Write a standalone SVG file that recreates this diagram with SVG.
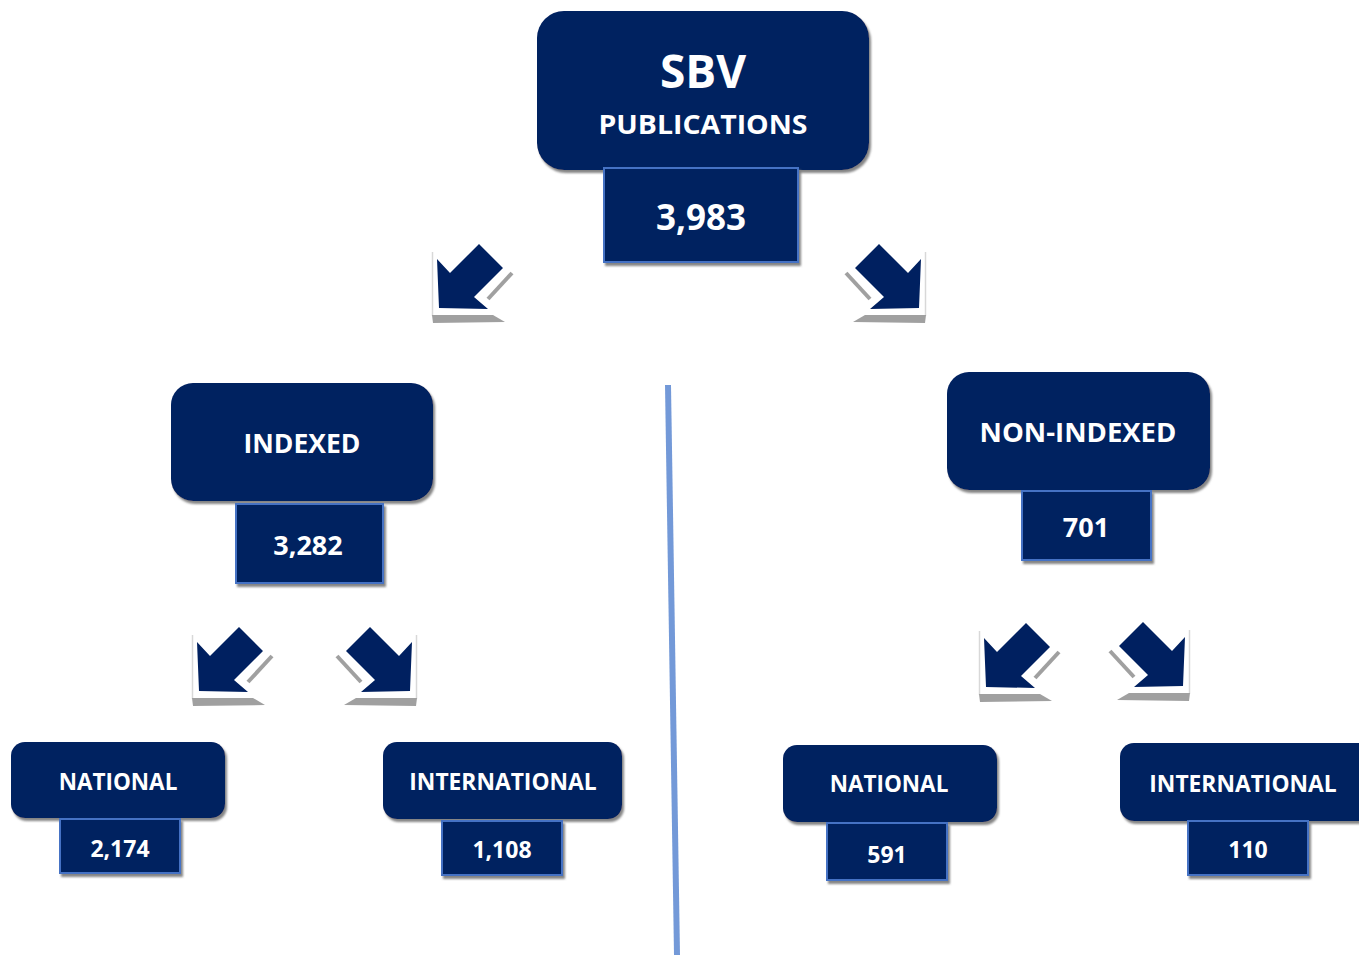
<svg xmlns="http://www.w3.org/2000/svg" xmlns:xlink="http://www.w3.org/1999/xlink" width="1359" height="955" viewBox="0 0 1359 955">
<style>
.box{fill:#002060;filter:url(#sh)}
.num{fill:#002060;stroke:#4472c4;stroke-width:2;filter:url(#sh)}
.t{fill:#ffffff;font-family:"Open Sans","Liberation Sans",sans-serif;font-weight:bold;text-anchor:middle}
</style>
<defs>
<filter id="sh" x="-10%" y="-10%" width="130%" height="130%">
<feDropShadow dx="2" dy="3" stdDeviation="0.8" flood-color="#7f7f7f" flood-opacity="0.95"/>
</filter>
<g id="arrowDL">
<line x1="0.5" y1="8" x2="0.5" y2="72" stroke="#d8d8d8" stroke-width="1.5"/>
<polygon points="0,71 61,71 73,78 1,79" fill="#a0a0a0"/>
<polygon points="7,64 5,15 18,29 47,0 71,24 42,53 56,65" fill="#002060"/>
<line x1="80" y1="29" x2="56" y2="55" stroke="#a0a0a0" stroke-width="4"/>
</g>
</defs>
<rect width="1359" height="955" fill="#ffffff"/>
<g id="connectors">
<use xlink:href="#arrowDL" transform="translate(432,244)"/>
<use xlink:href="#arrowDL" transform="translate(845,244) scale(-1,1) translate(-81,0)"/>
<use xlink:href="#arrowDL" transform="translate(192,627)"/>
<use xlink:href="#arrowDL" transform="translate(336,627) scale(-1,1) translate(-81,0)"/>
<use xlink:href="#arrowDL" transform="translate(979,623)"/>
<use xlink:href="#arrowDL" transform="translate(1109,622) scale(-1,1) translate(-81,0)"/>
<line x1="668" y1="385" x2="677" y2="955" stroke="#7399d8" stroke-width="6"/>
</g>
<g id="sbv">
<rect class="box" x="537" y="11" width="332" height="159" rx="27"/>
<text class="t" x="703" y="88" font-size="46">SBV</text>
<text class="t" x="703" y="134" font-size="27" textLength="209" lengthAdjust="spacingAndGlyphs">PUBLICATIONS</text>
<rect class="num" x="604" y="168" width="194" height="94"/>
<text class="t" x="701" y="230" font-size="35">3,983</text>
</g>
<g id="indexed">
<rect class="box" x="171" y="383" width="262" height="118" rx="22"/>
<text class="t" x="302" y="453" font-size="26.5">INDEXED</text>
<rect class="num" x="236" y="504" width="147" height="79"/>
<text class="t" x="308" y="555" font-size="27">3,282</text>
</g>
<g id="nonindexed">
<rect class="box" x="947" y="372" width="263" height="118" rx="22"/>
<text class="t" x="1078" y="442" font-size="27.5">NON-INDEXED</text>
<rect class="num" x="1022" y="491" width="129" height="69"/>
<text class="t" x="1086" y="537" font-size="27">701</text>
</g>
<g id="idx-national">
<rect class="box" x="11" y="742" width="214" height="76" rx="14"/>
<text class="t" x="118" y="790" font-size="22.5">NATIONAL</text>
<rect class="num" x="60" y="819" width="120" height="54"/>
<text class="t" x="120" y="857" font-size="23">2,174</text>
</g>
<g id="idx-international">
<rect class="box" x="383" y="742" width="239" height="77" rx="14"/>
<text class="t" x="503" y="790" font-size="22.8">INTERNATIONAL</text>
<rect class="num" x="442" y="821" width="120" height="54"/>
<text class="t" x="502" y="858" font-size="23">1,108</text>
</g>
<g id="non-national">
<rect class="box" x="783" y="745" width="214" height="77" rx="14"/>
<text class="t" x="889" y="792" font-size="22.5">NATIONAL</text>
<rect class="num" x="827" y="823" width="120" height="57"/>
<text class="t" x="887" y="863" font-size="23">591</text>
</g>
<g id="non-international">
<rect class="box" x="1120" y="743" width="260" height="78" rx="14"/>
<text class="t" x="1243" y="792" font-size="22.8">INTERNATIONAL</text>
<rect class="num" x="1188" y="821" width="120" height="54"/>
<text class="t" x="1248" y="858" font-size="23">110</text>
</g>
</svg>
